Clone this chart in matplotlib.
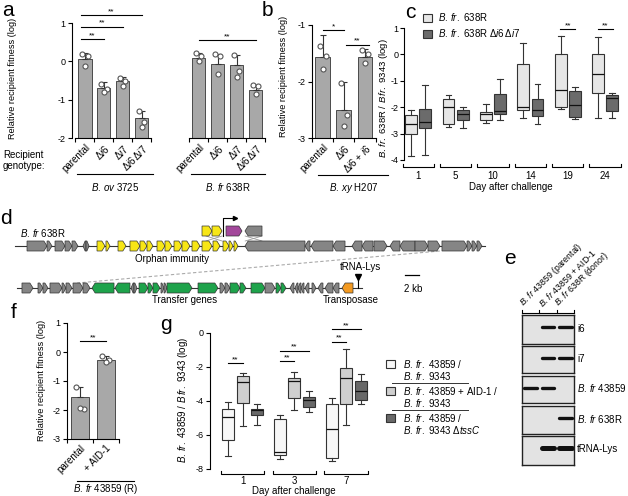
import numpy as np
import matplotlib
matplotlib.use('Agg')
import matplotlib.pyplot as plt
from matplotlib.patches import Polygon, Rectangle, Patch
from matplotlib.transforms import blended_transform_factory

plt.rcParams['font.family'] = ['Liberation Sans', 'DejaVu Sans']
plt.rcParams['mathtext.fontset'] = 'custom'
plt.rcParams['mathtext.rm'] = 'Liberation Sans'
plt.rcParams['mathtext.it'] = 'Liberation Sans:italic'
plt.rcParams['mathtext.bf'] = 'Liberation Sans:bold'
plt.rcParams['font.size'] = 7
plt.rcParams['axes.linewidth'] = 0.8
plt.rcParams['xtick.major.width'] = 0.8
plt.rcParams['ytick.major.width'] = 0.8
plt.rcParams['xtick.major.size'] = 3
plt.rcParams['ytick.major.size'] = 3

# ---------------- data ----------------
# panel a
a_labels = ['parental', r'$\Delta\mathit{i6}$', r'$\Delta\mathit{i7}$', r'$\Delta\mathit{i6}\,\Delta\mathit{i7}$']
a_groups = [r'$\mathit{B.\,ov}$ 3725', r'$\mathit{B.\,fr}$ 638R']
a_ov_mean = [0.06, -0.69, -0.50, -1.47]
a_ov_err = [0.17, 0.15, 0.10, 0.18]
a_ov_pts = [[0.20, 0.15, -0.12], [-0.58, -0.71, -0.80], [-0.43, -0.52, -0.65], [-1.30, -1.58, -1.70]]
a_fr_mean = [0.09, -0.06, -0.09, -0.74]
a_fr_err = [0.12, 0.25, 0.25, 0.12]
a_fr_pts = [[0.23, 0.14, 0.00], [0.20, 0.14, -0.34], [0.17, -0.26, -0.41], [-0.61, -0.65, -0.84]]

# panel b
b_labels = ['parental', r'$\Delta\mathit{i6}$', r'$\Delta\mathit{i6}$ + $\mathit{i6}$']
b_group = r'$\mathit{B.\,xy}$ H207'
b_mean = [-1.56, -2.50, -1.56]
b_err = [0.38, 0.50, 0.13]
b_pts = [[-1.38, -1.55, -1.78], [-2.03, -2.60, -2.78], [-1.45, -1.52, -1.68]]

# panel c (box stats: whislo, q1, med, q3, whishi)
c_days = ['1', '5', '10', '14', '19', '24']
c_wt = [[-3.85, -3.00, -2.65, -2.30, -2.10],
        [-2.75, -2.65, -1.98, -1.70, -1.55],
        [-2.58, -2.50, -2.25, -2.20, -1.88],
        [-2.40, -2.10, -2.00, -0.38, 0.45],
        [-2.05, -2.00, -1.35, 0.03, 0.68],
        [-2.40, -1.45, -0.75, 0.00, 0.65]]
c_mut = [[-3.80, -2.80, -2.55, -2.05, -1.15],
         [-2.78, -2.50, -2.25, -2.10, -1.98],
         [-2.50, -2.25, -2.15, -1.50, -0.92],
         [-2.65, -2.35, -2.10, -1.68, -1.12],
         [-2.45, -2.38, -1.90, -1.38, -1.25],
         [-2.40, -2.15, -1.65, -1.55, -1.45]]
c_legend = [r'$\mathit{B.\,fr.}$ 638R', r'$\mathit{B.\,fr.}$ 638R $\Delta\mathit{i6}\,\Delta\mathit{i7}$']

# panel f
f_labels = ['parental', '+ AID-1']
f_group = r'$\mathit{B.\,fr}$ 43859 (R)'
f_mean = [-1.55, -0.27]
f_err = [0.35, 0.12]
f_pts = [[-1.20, -1.97, -1.93], [-0.15, -0.27, -0.35]]

# panel g
g_days = ['1', '3', '7']
g_s1 = [[-7.25, -6.30, -4.96, -4.45, -4.08],
        [-7.40, -7.15, -7.00, -5.05, -4.80],
        [-7.55, -7.35, -5.65, -4.15, -3.85]]
g_s2 = [[-5.45, -4.10, -2.90, -2.55, -2.35],
        [-4.55, -3.85, -2.80, -2.65, -2.30],
        [-5.40, -4.15, -2.65, -2.05, -0.95]]
g_s3 = [[-5.40, -4.85, -4.55, -4.45, -4.15],
        [-4.65, -4.35, -3.95, -3.75, -3.40],
        [-4.15, -3.95, -3.40, -2.80, -2.40]]

# panel e (gel): band presence per lane
e_rows = ['i6', 'i7', r'$\mathit{B.\,fr}$ 43859', r'$\mathit{B.\,fr}$ 638R', 'tRNA-Lys']
e_lanes = [r'$\mathit{B.\,fr}$ 43859 (parental)', r'$\mathit{B.\,fr}$ 43859 + AID-1', r'$\mathit{B.\,fr}$ 638R (donor)']
e_bands = [[0, 1, 1], [0, 1, 1], [1, 1, 0], [0, 0, 1], [0, 1, 1]]

# panel d gene maps (start kb, end kb, strand, type)
d_top = [(1.43, 4.29, 1, 'g'), (4.29, 5.0, 1, 'g'), (5.43, 6.86, 1, 'g'), (6.86, 7.86, 1, 'g'),
         (7.86, 8.71, 1, 'g'), (9.43, 9.86, -1, 'g'), (9.86, 10.29, 1, 'g'),
         (11.43, 12.57, 1, 'y'), (12.71, 13.29, 1, 'y'), (14.43, 15.57, 1, 'y'), (16.14, 17.57, 1, 'y'),
         (17.57, 18.57, 1, 'y'), (18.57, 19.43, 1, 'y'), (20.0, 21.14, 1, 'y'), (21.14, 22.14, 1, 'y'),
         (22.43, 23.57, 1, 'y'), (23.57, 24.71, 1, 'y'), (25.0, 26.14, 1, 'y'), (26.43, 27.86, 1, 'y'),
         (28.0, 29.0, 1, 'y'), (29.43, 30.29, 1, 'y'), (30.29, 30.86, 1, 'y'), (31.0, 31.57, 1, 'y'),
         (32.57, 41.14, -1, 'g'), (41.14, 41.86, -1, 'g'), (42.0, 45.14, -1, 'g'), (45.14, 46.86, -1, 'g'),
         (47.86, 49.29, -1, 'g'), (49.29, 50.86, -1, 'g'), (51.0, 52.86, 1, 'g'), (53.29, 54.71, -1, 'g'),
         (54.71, 56.86, -1, 'g'), (56.86, 58.71, 1, 'g'), (58.71, 60.43, 1, 'g'), (60.71, 64.29, 1, 'g'),
         (64.29, 65.0, 1, 'g'), (65.0, 65.71, 1, 'g'), (65.71, 66.43, 1, 'g')]
d_inset = [(26.43, 27.86, 1, 'y'), (27.86, 29.29, 1, 'y'), (29.86, 32.14, 1, 'm'), (32.57, 35.0, -1, 'g')]
d_bot = [(0.71, 2.29, 1, 'g'), (3.0, 3.71, 1, 'g'), (3.71, 4.43, 1, 'g'), (4.71, 6.43, 1, 'g'),
         (6.43, 7.0, 1, 'g'), (7.0, 7.86, 1, 'g'), (8.0, 9.43, 1, 'g'), (9.43, 10.43, 1, 'g'),
         (10.71, 13.86, -1, 'G'), (14.0, 16.14, -1, 'G'), (16.29, 16.71, -1, 'g'), (16.71, 17.14, 1, 'g'),
         (17.43, 18.71, 1, 'G'), (18.71, 19.43, 1, 'G'), (19.43, 20.43, 1, 'G'), (20.57, 21.0, 1, 'g'),
         (21.0, 21.43, 1, 'g'), (21.43, 25.0, 1, 'G'), (25.86, 28.71, 1, 'G'), (29.0, 29.71, 1, 'g'),
         (29.71, 30.43, 1, 'g'), (30.43, 31.86, 1, 'G'), (31.86, 32.71, 1, 'G'), (33.43, 35.43, 1, 'G'),
         (35.43, 36.86, 1, 'g'), (37.0, 37.71, 1, 'G'), (37.71, 38.43, 1, 'G'), (39.0, 39.57, -1, 'g'),
         (39.71, 40.14, -1, 'g'), (40.14, 40.57, -1, 'g'), (40.57, 41.0, -1, 'g'), (41.14, 41.71, -1, 'g'),
         (42.14, 42.71, 1, 'g'), (43.0, 43.71, -1, 'g'), (44.0, 45.14, -1, 'g'), (45.14, 46.0, -1, 'g'),
         (46.43, 48.0, -1, 'o')]
d_trna_kb = 48.71

# ---------------- figure ----------------
W, H = 628, 496
fig = plt.figure(figsize=(W / 100, H / 100), dpi=100)


def pax(x0, y0, x1, y1, **kw):
    return fig.add_axes([x0 / W, 1 - y1 / H, (x1 - x0) / W, (y1 - y0) / H], **kw)


def ftext(x, y, s, **kw):
    return fig.text(x / W, 1 - y / H, s, **kw)


def fy(y):
    return 1 - y / H


BAR_C = '#a8a8a8'
EDGE = '#4a4a4a'
TFS = 6.5   # tick font size
LFS = 7     # label font size


def barplot(ax, xs, means, errs, pts, ymin):
    xs = np.asarray(xs, float)
    m = np.asarray(means)
    ax.bar(xs, m - ymin, bottom=ymin, width=0.7, color=BAR_C, edgecolor=EDGE, linewidth=0.7, zorder=2)
    ax.errorbar(xs, m, yerr=[np.zeros_like(m), errs], fmt='none', ecolor='#333333',
                elinewidth=0.8, capsize=2.2, capthick=0.8, zorder=3)
    offs = [-0.14, 0.14, 0.0]
    for x, p in zip(xs, pts):
        ax.scatter(x + np.array(offs[:len(p)]), p, s=13, facecolor='white', edgecolor='#555555',
                   linewidth=0.8, zorder=4)


def sig(ax, x1, x2, y, txt):
    ax.plot([x1, x2], [y, y], color='k', lw=0.8, clip_on=False)
    ax.text((x1 + x2) / 2, y, txt, ha='center', va='bottom', fontsize=6, clip_on=False)


def style_bar_axis(ax, groups, labels, ymin):
    ax.spines['top'].set_visible(False)
    ax.spines['right'].set_visible(False)
    ax.spines['bottom'].set_visible(False)
    bnds, cents, labs = [], [], []
    for g in groups:
        ax.plot([g[0] - 0.5, g[-1] + 0.5], [ymin, ymin], color='k', lw=0.8, clip_on=False, zorder=5)
        bnds += [g[0] - 0.5] + [x + 0.5 for x in g]
        cents += list(g)
        labs += labels
    ax.set_xticks(bnds)
    ax.tick_params(axis='x', which='major', length=3, labelbottom=False, direction='out')
    ax.set_xticks(cents, minor=True)
    ax.set_xticklabels(labs, minor=True, rotation=45, ha='right', rotation_mode='anchor', fontsize=LFS)
    ax.tick_params(axis='x', which='minor', length=0, pad=3)
    ax.tick_params(axis='y', labelsize=TFS, pad=1.5)


def group_line(ax, x1, x2, ypx, text, typx):
    tr = blended_transform_factory(ax.transData, fig.transFigure)
    ax.plot([x1, x2], [fy(ypx), fy(ypx)], color='k', lw=0.8, transform=tr, clip_on=False)
    ax.text((x1 + x2) / 2, fy(typx), text, transform=tr, ha='center', va='center', fontsize=LFS)


# ---- panel a ----
axa = pax(72, 23, 265, 138)
xa1 = [0, 1, 2, 3]
xa2 = [6, 7, 8, 9]
barplot(axa, xa1, a_ov_mean, a_ov_err, a_ov_pts, -2)
barplot(axa, xa2, a_fr_mean, a_fr_err, a_fr_pts, -2)
axa.set_ylim(-2, 1)
axa.set_xlim(-0.68, 9.47)
axa.set_yticks([-2, -1, 0, 1])
axa.set_yticklabels(['-2', '-1', '0', '1'])
style_bar_axis(axa, [xa1, xa2], a_labels, -2)
sig(axa, -0.2, 1, 0.58, '**')
sig(axa, -0.2, 2, 0.90, '**')
sig(axa, -0.2, 3, 1.20, '**')
sig(axa, 6, 9, 0.55, '**')
group_line(axa, -0.42, 3.58, 174, a_groups[0], 187)
group_line(axa, 5.6, 9.5, 174, a_groups[1], 187)
ftext(13, 78, 'Relative recipient fitness (log)', rotation=90, ha='center', va='center', fontsize=6.6)
ftext(3, 155, 'Recipient', ha='left', va='center', fontsize=LFS)
ftext(3, 166, 'genotype:', ha='left', va='center', fontsize=LFS)

# ---- panel b ----
axb = pax(312, 25, 376, 138)
xb = [0, 1, 2]
barplot(axb, xb, b_mean, b_err, b_pts, -3)
axb.set_ylim(-3, -1)
axb.set_xlim(-0.48, 2.52)
axb.set_yticks([-3, -2, -1])
axb.set_yticklabels(['-3', '-2', '-1'])
style_bar_axis(axb, [xb], b_labels, -3)
sig(axb, 0, 1, -1.09, '*')
sig(axb, 1.1, 2.2, -1.35, '**')
group_line(axb, -0.2, 3.1, 175, b_group, 188)
ftext(283, 76, 'Relative recipient fitness (log)', rotation=90, ha='center', va='center', fontsize=6.6)

# ---- panel c ----
axc = pax(404, 28, 628, 160)
C_LIGHT = '#e6e6e6'
C_DARK = '#6b6b6b'


def stats_list(rows):
    return [dict(whislo=r[0], q1=r[1], med=r[2], q3=r[3], whishi=r[4]) for r in rows]


def boxes(ax, rows, pos, width, color):
    ax.bxp(stats_list(rows), positions=pos, widths=width, patch_artist=True, showfliers=False,
           boxprops=dict(facecolor=color, edgecolor='#333333', linewidth=0.8),
           medianprops=dict(color='#111111', linewidth=0.9),
           whiskerprops=dict(color='#333333', linewidth=0.8),
           capprops=dict(color='#333333', linewidth=0.8), manage_ticks=False)


cx = np.arange(len(c_days))
boxes(axc, c_wt, cx - 0.19, 0.32, C_LIGHT)
boxes(axc, c_mut, cx + 0.19, 0.32, C_DARK)
axc.set_ylim(-4, 1)
axc.set_xlim(-0.38, 5.61)
axc.set_yticks([-4, -3, -2, -1, 0, 1])
axc.set_yticklabels(['-4', '-3', '-2', '-1', '0', '1'])
for s in ['top', 'right', 'bottom']:
    axc.spines[s].set_visible(False)
axc.set_xticks([])
axc.tick_params(axis='y', labelsize=TFS, pad=1.2)


def brackets(ax, centers, half, ypx, labels, lab_ypx):
    tr = blended_transform_factory(ax.transData, fig.transFigure)
    for c, lab in zip(centers, labels):
        ax.plot([c - half, c - half, c + half, c + half],
                [fy(ypx - 3), fy(ypx), fy(ypx), fy(ypx - 3)], color='k', lw=0.8,
                transform=tr, clip_on=False)
        ax.text(c, fy(lab_ypx), lab, transform=tr, ha='center', va='center', fontsize=LFS)


brackets(axc, cx, 0.42, 167, c_days, 176)
ftext(511, 187, 'Day after challenge', ha='center', va='center', fontsize=LFS)
sig(axc, 3.8, 4.2, 0.95, '**')
sig(axc, 4.8, 5.2, 0.95, '**')
ftext(383, 98, r'$\mathit{B.\,fr.}$ 638R / $\mathit{B\,fr.}$ 9343 (log)', rotation=90,
      ha='center', va='center', fontsize=6.8)
axc.legend(handles=[Patch(facecolor=C_LIGHT, edgecolor='#333333', lw=0.8),
                    Patch(facecolor=C_DARK, edgecolor='#333333', lw=0.8)],
           labels=c_legend, loc='upper left', bbox_to_anchor=(423 / W, fy(11)),
           bbox_transform=fig.transFigure, frameon=False, handlelength=0.9, handleheight=0.9,
           handletextpad=0.6, borderpad=0, borderaxespad=0, labelspacing=0.45, fontsize=LFS)

# ---- panel d ----
axd = pax(0, 200, W, 310)
KB = 7.0
axd.set_xlim(-17 / KB, (W - 17) / KB)
axd.set_ylim(310, 200)
axd.axis('off')
GCOL = {'g': '#858585', 'y': '#f7e617', 'm': '#a3489b', 'G': '#1ea34b', 'o': '#f39a22'}


def gene(ax, s, e, y, d, t, h=10.0, head=0.45):
    hd = min(head, (e - s) * 0.7)
    if d > 0:
        pts = [(s, y - h / 2), (e - hd, y - h / 2), (e, y), (e - hd, y + h / 2), (s, y + h / 2)]
    else:
        pts = [(e, y - h / 2), (s + hd, y - h / 2), (s, y), (s + hd, y + h / 2), (e, y + h / 2)]
    ax.add_patch(Polygon(pts, closed=True, fc=GCOL[t], ec='#333333', lw=0.5, zorder=3))


ytop, yins, ybot = 246, 231, 288
axd.plot([-0.3, 66.9], [ytop, ytop], color='#333333', lw=0.8, zorder=1)
axd.plot([0.0, 49.3], [ybot, ybot], color='#333333', lw=0.8, zorder=1)
for g in d_top:
    gene(axd, g[0], g[1], ytop, g[2], g[3])
for g in d_inset:
    gene(axd, g[0], g[1], yins, g[2], g[3])
for g in d_bot:
    gene(axd, g[0], g[1], ybot, g[2], g[3])
for (a0, a1) in [(27.0, 29.3), (32.6, 35.0)]:
    axd.plot([a0, a1], [yins + 5, ytop - 5], color='#999999', lw=0.6, zorder=2)
    axd.plot([a1, a0], [yins + 5, ytop - 5], color='#999999', lw=0.6, zorder=2)
axd.plot([29.5, 29.5, 30.9], [yins + 5, 218, 218], color='k', lw=0.8, zorder=4)
axd.plot([31.1], [218], marker='>', color='k', ms=3, zorder=4)
axd.plot([60.4, 8.6], [251, 283], color='#aaaaaa', lw=0.8, ls=(0, (3, 2)), zorder=0)
axd.plot([d_trna_kb, d_trna_kb], [280, ybot], color='k', lw=0.8, zorder=4)
axd.plot([d_trna_kb], [277], marker='v', color='k', ms=5, zorder=4)
axd.plot([55.4, 57.4], [275, 275], color='k', lw=0.9)
axd.text(56.6, 289, '2 kb', ha='center', va='center', fontsize=LFS)
axd.text(0.5, 233, r'$\mathit{B.\,fr}$ 638R', ha='left', va='center', fontsize=LFS)
axd.text(22.2, 259, 'Orphan immunity', ha='center', va='center', fontsize=LFS)
axd.text(49.0, 267, 'tRNA-Lys', ha='center', va='center', fontsize=LFS)
axd.text(24.0, 300, 'Transfer genes', ha='center', va='center', fontsize=LFS)
axd.text(47.7, 300, 'Transposase', ha='center', va='center', fontsize=LFS)

# ---- panel e (gel) ----
gel_rows_px = [(315, 344), (346, 373), (376, 403), (406, 434), (436, 465)]
for i, ((y0, y1), name, pres) in enumerate(zip(gel_rows_px, e_rows, e_bands)):
    ax = pax(522, y0, 574, y1)
    ax.set_facecolor('#e3e3e3')
    ax.set_xlim(0.5, 3.5)
    ax.set_ylim(0, 1)
    ax.set_xticks([])
    ax.set_yticks([])
    for s in ax.spines.values():
        s.set_color('#222222')
        s.set_linewidth(1.0)
    lw = 3.6 if name == 'tRNA-Lys' else 2.4
    for lane, p in zip([1, 2, 3], pres):
        if p:
            ax.plot([lane - 0.36, lane + 0.36], [0.57, 0.57], color='#111111', lw=lw,
                    solid_capstyle='round')
    ftext(577, (y0 + y1) / 2 - 1, name, ha='left', va='center', fontsize=LFS)
axe_h = pax(522, 300, 574, 313)
axe_h.set_xlim(0.5, 3.5)
axe_h.set_ylim(0, 1)
axe_h.axis('off')
axe_h.plot([0.5, 3.5], [0, 0], color='k', lw=0.8, clip_on=False)
for b in [0.5, 1.5, 2.5, 3.5]:
    axe_h.plot([b, b], [0, 0.25], color='k', lw=0.8, clip_on=False)
for lane, lab in zip([1, 2, 3], e_lanes):
    axe_h.text(lane - 0.25, 0.3, lab, rotation=45, ha='left', va='bottom',
               rotation_mode='anchor', fontsize=6.3)

# ---- panel f ----
axf = pax(67, 323, 120, 439)
xf = [0, 1]
barplot(axf, xf, f_mean, f_err, f_pts, -3)
axf.set_ylim(-3, 1)
axf.set_xlim(-0.45, 1.55)
axf.set_yticks([-3, -2, -1, 0, 1])
axf.set_yticklabels(['-3', '-2', '-1', '0', '1'])
style_bar_axis(axf, [xf], f_labels, -3)
sig(axf, 0, 1, 0.38, '**')
group_line(axf, -0.1, 2.1, 481, f_group, 489)
ftext(42, 380, 'Relative recipient fitness (log)', rotation=90, ha='center', va='center', fontsize=6.6)

# ---- panel g ----
axg = pax(210, 333, 372, 469)
gx = np.arange(len(g_days))
boxes(axg, g_s1, gx - 0.28, 0.23, '#f7f7f7')
boxes(axg, g_s2, gx, 0.23, '#cfcfcf')
boxes(axg, g_s3, gx + 0.28, 0.23, '#686868')
axg.set_ylim(-8, 0)
axg.set_xlim(-0.63, 2.5)
axg.set_yticks([-8, -6, -4, -2, 0])
axg.set_yticklabels(['-8', '-6', '-4', '-2', '0'])
for s in ['top', 'right', 'bottom']:
    axg.spines[s].set_visible(False)
axg.set_xticks([])
axg.tick_params(axis='y', labelsize=TFS, pad=1.5)
brackets(axg, gx, 0.42, 474, g_days, 481)
ftext(294, 491, 'Day after challenge', ha='center', va='center', fontsize=LFS)
sig(axg, -0.28, 0.0, -1.76, '**')
sig(axg, 0.72, 1.0, -1.67, '**')
sig(axg, 0.72, 1.28, -1.04, '**')
sig(axg, 1.72, 2.0, -0.50, '**')
sig(axg, 1.72, 2.28, 0.22, '**')
ftext(183, 400, r'$\mathit{B.\,fr.}$ 43859 / $\mathit{B\,fr.}$ 9343 (log)', rotation=90,
      ha='center', va='center', fontsize=LFS)

axl = pax(380, 352, 480, 440)
axl.set_xlim(380, 480)
axl.set_ylim(440, 352)
axl.axis('off')
leg_cols = ['#f7f7f7', '#cfcfcf', '#686868']
leg_l1 = [r'$\mathit{B.\,fr.}$ 43859 /', r'$\mathit{B.\,fr.}$ 43859 + AID-1 /', r'$\mathit{B.\,fr.}$ 43859 /']
leg_l2 = [r'$\mathit{B.\,fr.}$ 9343', r'$\mathit{B.\,fr.}$ 9343', r'$\mathit{B.\,fr.}$ 9343 $\Delta\mathit{tssC}$']
for k, (col, l1, l2) in enumerate(zip(leg_cols, leg_l1, leg_l2)):
    yc = 364 + 27 * k
    axl.add_patch(Rectangle((386, yc - 4), 9, 8, fc=col, ec='#333333', lw=0.8, clip_on=False))
    axl.text(403, yc, l1, ha='left', va='center', fontsize=LFS, clip_on=False)
    axl.text(403, yc + 12, l2, ha='left', va='center', fontsize=LFS, clip_on=False)
    if k < 2:
        axl.plot([392, 468], [yc + 19, yc + 19], color='#333333', lw=0.7, clip_on=False)

for let, x, y in [('a', 8, 10), ('b', 267, 10), ('c', 410, 13), ('d', 6, 219),
                  ('e', 510, 258), ('f', 14, 312), ('g', 166, 324)]:
    ftext(x, y, let, ha='center', va='center', fontsize=15)

fig.savefig('out.png', dpi=100)
